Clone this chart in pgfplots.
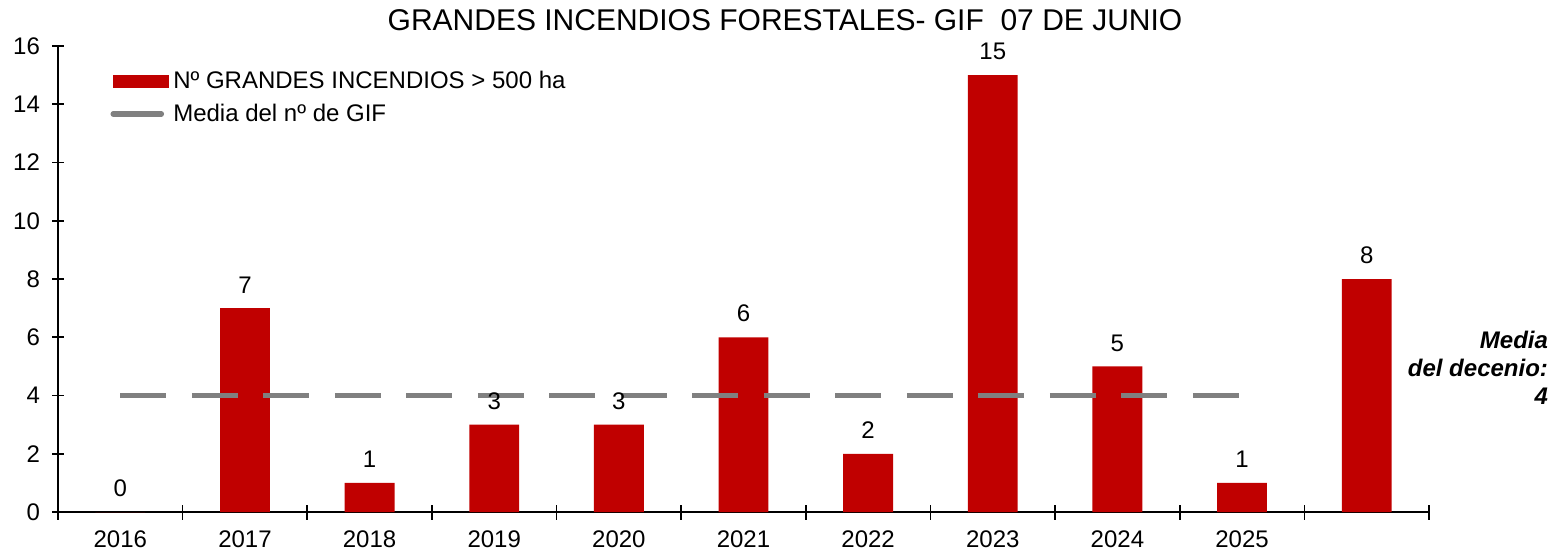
\documentclass[border=0pt]{standalone}
\usepackage{pgfplots}
\pgfplotsset{compat=1.18}
\usepackage{fontspec}
\setmainfont{Liberation Sans}
\definecolor{barred}{RGB}{192,0,0}
\definecolor{lgray}{RGB}{128,128,128}
\newcommand{\fs}{\fontsize{12}{14}\selectfont}
\begin{document}
\begin{tikzpicture}
\useasboundingbox (-29pt,-20.5pt) rectangle (748pt,256pt);
\begin{axis}[
  scale only axis,
  width=685.5pt, height=233pt,
  xmin=-0.5, xmax=10.5, ymin=0, ymax=16,
  axis x line*=bottom, axis y line*=left,
  axis line style={black, line width=0.8pt},
  ytick={0,2,...,16},
  xtick={0,...,9},
  xticklabels={2016,2017,2018,2019,2020,2021,2022,2023,2024,2025},
  major x tick style={draw=none},
  minor xtick={-0.5,0.5,...,10.5},
  minor tick length=7.5pt,
  major tick length=6pt,
  tick align=center,
  tick style={black, line width=0.8pt},
  ticklabel style={font=\fs},
  /pgf/number format/assume math mode=true,
  xticklabel style={yshift=-3pt},
  yticklabel style={xshift=-2.5pt},
  legend style={at={(0.038,0.955)}, anchor=north west, draw=none, fill=none, font=\fs, row sep=2pt, inner sep=0pt, cells={anchor=west}},
  clip=false,
]
\addplot[ybar, bar width=0.4, fill=barred, draw=none,
  nodes near coords, every node near coord/.append style={font=\fs, black, yshift=4pt},
  legend image code/.code={\fill[barred] (0pt,-3.25pt) rectangle (28pt,3.25pt);}]
  coordinates {(0,0) (1,7) (2,1) (3,3) (4,3) (5,6) (6,2) (7,15) (8,5) (9,1) (10,8)};
\addlegendentry{Nº GRANDES INCENDIOS > 500 ha}
\addplot[sharp plot, no marks, draw=lgray, line width=2.8pt, dash pattern=on 23pt off 12.75pt,
  legend image code/.code={\draw[lgray, line width=2.8pt, solid, line cap=round] (0pt,0pt) -- (24pt,0pt);}]
  coordinates {(0,4) (9,4)};
\addlegendentry{Media del nº de GIF}
\end{axis}
\node[font=\fontsize{15}{18}\selectfont] at (363.5pt,246pt) {GRANDES INCENDIOS FORESTALES- GIF\ \ 07 DE JUNIO};
\node[align=right, anchor=east, font=\fs\bfseries\itshape] at (748.5pt,72pt) {Media\\del decenio:\\4};
\end{tikzpicture}
\end{document}
